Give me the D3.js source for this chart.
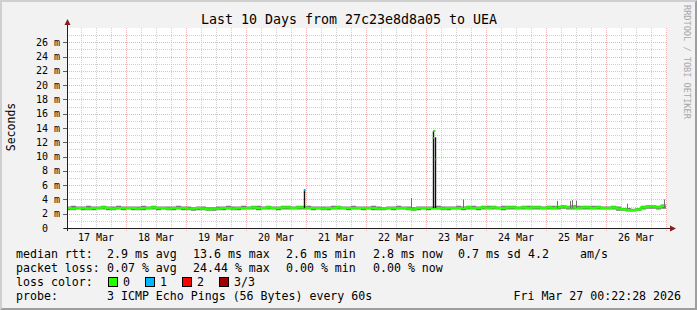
<!DOCTYPE html>
<html>
<head>
<meta charset="utf-8">
<script src="https://cdn.jsdelivr.net/npm/d3@7"></script>
<style>
  html, body { margin: 0; padding: 0; background: #f2f2f2; }
  svg { display: block; font-family: "DejaVu Sans Mono", monospace; }
</style>
</head>
<body>
<svg id="chart" width="697" height="310"></svg>
<script>
// ---- data (ms), 2 hour steps starting 17 Mar 00:00 UTC ----
const medianMs = [
  2.8,2.7,2.8,2.8,2.7,2.8,2.8,2.9,2.8,2.7,2.8,2.8,
  2.8,2.8,2.7,2.8,2.8,2.9,2.8,2.8,2.7,2.8,2.8,2.8,
  2.7,2.7,2.8,2.7,2.6,2.7,2.7,2.8,2.8,2.7,2.8,2.8,
  2.8,2.9,2.8,2.8,2.9,2.8,2.8,2.9,2.9,2.8,2.9,2.9,
  2.8,2.8,2.8,2.7,2.8,2.8,2.9,2.8,2.8,2.8,2.8,2.8,
  2.8,2.8,2.7,2.7,2.8,2.8,2.8,2.8,2.7,2.6,2.8,2.8,
  2.8,2.8,2.8,2.7,2.8,2.8,2.8,2.8,2.9,2.8,2.8,2.9,
  2.8,2.9,2.8,2.8,2.9,2.9,2.8,2.9,2.8,2.9,2.9,2.8,
  2.9,2.8,2.9,3.0,2.9,2.9,2.8,2.9,2.9,2.8,2.9,2.8,
  2.8,2.9,2.7,2.6,2.5,2.5,2.6,2.9,3.0,3.0,2.9,3.1
];
const smokeLo = [
  2.5,2.5,2.6,2.5,2.5,2.5,2.6,2.6,2.5,2.5,2.6,2.5,
  2.6,2.5,2.5,2.5,2.6,2.6,2.5,2.6,2.5,2.5,2.6,2.5,
  2.5,2.4,2.5,2.5,2.4,2.4,2.5,2.5,2.6,2.5,2.5,2.6,
  2.6,2.6,2.5,2.6,2.6,2.6,2.5,2.6,2.6,2.6,2.6,2.6,
  2.6,2.5,2.6,2.5,2.5,2.6,2.6,2.6,2.5,2.6,2.6,2.5,
  2.6,2.5,2.5,2.5,2.6,2.5,2.6,2.6,2.5,2.4,2.5,2.6,
  2.5,2.6,2.6,2.5,2.5,2.6,2.6,2.5,2.6,2.6,2.5,2.6,
  2.6,2.6,2.6,2.5,2.6,2.6,2.6,2.6,2.6,2.6,2.6,2.6,
  2.6,2.6,2.6,2.7,2.6,2.6,2.6,2.6,2.6,2.6,2.6,2.6,
  2.6,2.6,2.4,2.4,2.3,2.3,2.4,2.6,2.7,2.7,2.6,2.7
];
const smokeHi = [
  3.0,3.1,3.0,3.0,3.1,3.0,3.0,3.1,3.0,3.0,3.1,3.0,
  3.0,3.0,3.0,3.1,3.0,3.1,3.0,3.0,3.0,3.0,3.1,3.0,
  3.0,2.9,3.0,3.0,2.9,2.9,3.0,3.0,3.1,3.0,3.0,3.1,
  3.0,3.1,3.1,3.0,3.1,3.0,3.0,3.1,3.1,3.0,3.1,3.1,
  3.1,3.0,3.0,3.0,3.0,3.1,3.1,3.0,3.0,3.1,3.0,3.0,
  3.0,3.1,3.0,2.9,3.0,3.0,3.1,3.0,3.0,2.9,3.0,3.0,
  3.0,3.0,3.1,3.0,3.0,3.0,3.1,3.0,3.1,3.1,3.0,3.1,
  3.1,3.1,3.0,3.1,3.1,3.1,3.0,3.1,3.1,3.1,3.1,3.0,
  3.1,3.1,3.1,3.2,3.1,3.2,3.1,3.1,3.1,3.1,3.1,3.0,
  3.0,3.1,3.0,2.8,2.8,2.7,2.8,3.1,3.2,3.2,3.1,3.3
];

// single-sample excursions of the smoke (highest ping), ms
const spikeTimes = ["2026-03-20T23:12","2026-03-22T18:00","2026-03-23T02:36","2026-03-23T03:24",
                    "2026-03-23T14:48","2026-03-25T04:30","2026-03-25T09:36","2026-03-25T10:24",
                    "2026-03-25T12:00","2026-03-26T08:24","2026-03-26T23:12"];
const spikeHigh  = [5.4, 4.2, 13.6, 12.7, 4.0, 3.8, 3.8, 3.9, 3.8, 3.4, 4.0];

// median excursions (ms) and their loss class
const medTimes  = ["2026-03-20T23:12","2026-03-23T02:36","2026-03-23T02:48","2026-03-23T03:48"];
const medValues = [5.3, 12.6, 13.6, 9.6];
const medWidthMin = [36, 24, 60, 24];
const medLoss   = [1, 0, 0, 0];

const lossLabels = ["0", "1", "2", "3/3"];
const lossColors = ["#26ff00", "#00b8ff", "#ff0000", "#a00000"];

const yTicks = [0, 2, 4, 6, 8, 10, 12, 14, 16, 18, 20, 22, 24, 26];

const legendRtt  = ["median rtt:", "2.9 ms avg", "13.6 ms max", "2.6 ms min", "2.8 ms now", "0.7 ms sd", "4.2", "am/s"];
const legendLoss = ["packet loss:", "0.07 % avg", "24.44 % max", "0.00 % min", "0.00 % now"];
const probeText  = ["probe:", "3 ICMP Echo Pings (56 Bytes) every 60s"];
const stampText  = "Fri Mar 27 00:22:28 2026";
const titleText  = "Last 10 Days from 27c23e8d8a05 to UEA";

// ---- layout ----
const W = 697, H = 310;
const plot = { left: 67, right: 667, top: 28, bottom: 228 };

const svg = d3.select("#chart");

// background + 3d frame
svg.append("rect").attr("width", W).attr("height", H).attr("fill", "#f2f2f2");
svg.append("path").attr("d", `M0,${H} L0,0 L${W},0 L${W - 2},2 L2,2 L2,${H - 2} Z`).attr("fill", "#cfcfcf");
svg.append("path").attr("d", `M${W},0 L${W},${H} L0,${H} L2,${H - 2} L${W - 2},${H - 2} L${W - 2},2 Z`).attr("fill", "#9e9e9e");

const tStart = new Date(Date.UTC(2026, 2, 17, 0, 22, 28));
const tEnd = d3.utcDay.offset(tStart, 10);
const baseStart = Date.UTC(2026, 2, 17);
const stepMs = 2 * 3600e3;

const x = d3.scaleUtc().domain([tStart, tEnd]).range([plot.left, plot.right]);
const y = d3.scaleLinear().domain([0, 28]).range([plot.bottom, plot.top]);

svg.append("rect")
  .attr("x", plot.left).attr("y", plot.top)
  .attr("width", plot.right - plot.left).attr("height", plot.bottom - plot.top)
  .attr("fill", "#ffffff");

// grid
const grid = svg.append("g").attr("shape-rendering", "crispEdges").attr("stroke-width", 1).attr("stroke-dasharray", "1,1");
const px = v => Math.round(v) + 0.5;
const minorCol = "#cfcfcf", majorCol = "#f0b4b4";

const minorHours = d3.utcHour.every(6).range(tStart, tEnd).filter(d => d.getUTCHours() !== 0);
grid.selectAll(".vmin").data(minorHours).join("line")
  .attr("x1", d => px(x(d))).attr("x2", d => px(x(d)))
  .attr("y1", plot.top).attr("y2", plot.bottom)
  .attr("stroke", minorCol);
const minorY = d3.range(1, 28).filter(v => v % 2 !== 0);
grid.selectAll(".hmin").data(minorY).join("line")
  .attr("x1", plot.left).attr("x2", plot.right)
  .attr("y1", d => px(y(d))).attr("y2", d => px(y(d)))
  .attr("stroke", minorCol);

grid.selectAll(".vmaj").data(d3.utcDay.range(tStart, tEnd)).join("line")
  .attr("x1", d => px(x(d))).attr("x2", d => px(x(d)))
  .attr("y1", plot.top).attr("y2", plot.bottom + 3)
  .attr("stroke", majorCol);
grid.selectAll(".hmaj").data(yTicks.filter(v => v > 0)).join("line")
  .attr("x1", plot.left).attr("x2", plot.right)
  .attr("y1", d => px(y(d))).attr("y2", d => px(y(d)))
  .attr("stroke", majorCol);

// y tick marks
svg.append("g").attr("shape-rendering", "crispEdges").selectAll("line").data(yTicks).join("line")
  .attr("x1", plot.left - 4).attr("x2", plot.left)
  .attr("y1", d => px(y(d))).attr("y2", d => px(y(d)))
  .attr("stroke", "#606060");

// ---- series ----
const base = medianMs.map((m, i) => ({ t: new Date(baseStart + i * stepMs), med: m, lo: smokeLo[i], hi: smokeHi[i] }));
base.push(Object.assign({}, base[base.length - 1], { t: new Date(baseStart + medianMs.length * stepMs) }));

svg.append("clipPath").attr("id", "clip").append("rect")
  .attr("x", plot.left + 1).attr("y", plot.top)
  .attr("width", plot.right - plot.left - 1).attr("height", plot.bottom - plot.top);

const data = svg.append("g").attr("clip-path", "url(#clip)");

data.append("path").datum(base)
  .attr("fill", "#7a7a7a")
  .attr("d", d3.area().curve(d3.curveStepAfter)
    .x(d => x(d.t)).y0(d => y(d.lo)).y1(d => y(d.hi)));

data.append("path").datum(base)
  .attr("fill", "none")
  .attr("stroke", lossColors[0])
  .attr("stroke-width", 2.2)
  .attr("d", d3.line().curve(d3.curveStepAfter).x(d => x(d.t)).y(d => y(d.med)));

const parse = d3.utcParse("%Y-%m-%dT%H:%M");
const spikes = spikeTimes.map((s, i) => ({ t: parse(s), hi: spikeHigh[i] }));

data.selectAll(".spike").data(spikes).join("line")
  .attr("x1", d => px(x(d.t))).attr("x2", d => px(x(d.t)))
  .attr("y1", d => y(d.hi)).attr("y2", y(2.8))
  .attr("stroke", d => d.hi > 5 ? "#111111" : "#707070")
  .attr("stroke-width", d => d.hi > 5 ? 1.4 : 1);

const meds = medTimes.map((s, i) => ({ t: parse(s), v: medValues[i], w: medWidthMin[i], loss: medLoss[i] }));
data.selectAll(".cap").data(meds).join("rect")
  .attr("x", d => x(d.t))
  .attr("width", d => x(new Date(+d.t + d.w * 60e3)) - x(d.t))
  .attr("y", d => y(d.v) - 1).attr("height", 2)
  .attr("fill", d => lossColors[d.loss]);

// ---- axes ----
const axisCol = "#202020", arrowCol = "#8b1a1a";
svg.append("line").attr("shape-rendering", "crispEdges")
  .attr("x1", plot.left - 3).attr("x2", plot.right + 4)
  .attr("y1", plot.bottom + 0.5).attr("y2", plot.bottom + 0.5).attr("stroke", axisCol);
svg.append("line").attr("shape-rendering", "crispEdges")
  .attr("x1", plot.left + 0.5).attr("x2", plot.left + 0.5)
  .attr("y1", plot.bottom + 3).attr("y2", plot.top - 3).attr("stroke", axisCol);
svg.append("path").attr("fill", arrowCol)
  .attr("d", `M${plot.right + 3},${plot.bottom - 2.5} L${plot.right + 9},${plot.bottom + 0.5} L${plot.right + 3},${plot.bottom + 3.5} Z`);
svg.append("path").attr("fill", arrowCol)
  .attr("d", `M${plot.left - 2.5},${plot.top - 3} L${plot.left + 0.5},${plot.top - 9} L${plot.left + 3.5},${plot.top - 3} Z`);

// y labels
const yl = svg.append("g").attr("font-size", 10).attr("fill", "#000");
yl.selectAll(".num").data(yTicks).join("text")
  .attr("x", 48).attr("y", d => y(d)).attr("dy", "0.36em")
  .attr("text-anchor", "end").text(d => d);
yl.selectAll(".unit").data(yTicks.filter(v => v > 0)).join("text")
  .attr("x", 54).attr("y", d => y(d)).attr("dy", "0.36em")
  .text("m");

// x labels at noon
const noons = d3.utcDay.range(d3.utcDay.floor(tStart), tEnd)
  .map(d => d3.utcHour.offset(d, 12))
  .filter(d => d < tEnd);
svg.append("g").attr("font-size", 10).selectAll("text").data(noons).join("text")
  .attr("x", d => x(d)).attr("y", 241)
  .attr("text-anchor", "middle")
  .text(d3.utcFormat("%d %b"));

// title + axis title + watermark
svg.append("text").attr("x", 349).attr("y", 23.5).attr("text-anchor", "middle")
  .attr("font-size", 13.3).text(titleText);
svg.append("text").attr("transform", "translate(14.5,127) rotate(-90)")
  .attr("text-anchor", "middle").attr("font-size", 11.5).text("Seconds");
svg.append("text").attr("transform", "translate(684,5) rotate(90)")
  .attr("font-size", 8.6).attr("fill", "#a8a8a8").text("RRDTOOL / TOBI OETIKER");

// ---- legend ----
const lg = svg.append("g").attr("font-size", 11.6).attr("fill", "#000");
const rttX = [16, 107, 193, 286, 373, 458, 528, 580];
legendRtt.forEach((s, i) => lg.append("text").attr("x", rttX[i]).attr("y", 258).text(s));
legendLoss.forEach((s, i) => lg.append("text").attr("x", rttX[i]).attr("y", 272).text(s));
lg.append("text").attr("x", 16).attr("y", 286).text("loss color:");
lossLabels.forEach((s, i) => {
  const bx = 108 + i * 37;
  lg.append("rect").attr("x", bx + 0.5).attr("y", 277.5).attr("width", 9).attr("height", 9)
    .attr("fill", lossColors[i]).attr("stroke", "#000").attr("shape-rendering", "crispEdges");
  lg.append("text").attr("x", bx + 15).attr("y", 286).text(s);
});
lg.append("text").attr("x", 16).attr("y", 300).text(probeText[0]);
lg.append("text").attr("x", 107).attr("y", 300).text(probeText[1]);
lg.append("text").attr("x", 681).attr("y", 300).attr("text-anchor", "end").text(stampText);
</script>
</body>
</html>
